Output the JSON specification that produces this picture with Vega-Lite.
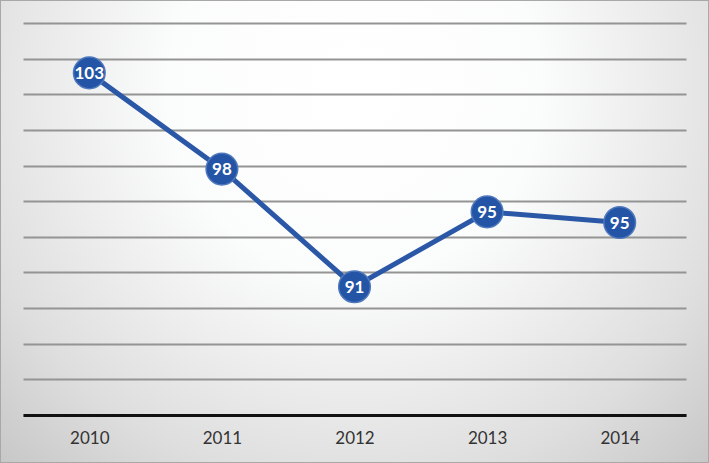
{
  "$schema": "https://vega.github.io/schema/vega-lite/v6.json",
  "width": 709,
  "height": 463,
  "autosize": {"type": "none"},
  "padding": 0,
  "background": "#d6d6d6",
  "config": {
    "view": {
      "fill": {
        "gradient": "radial",
        "x1": 0.5, "y1": 0.3, "r1": 0,
        "x2": 0.5, "y2": 0.3, "r2": 0.75,
        "stops": [
          {"offset": 0, "color": "#ffffff"},
          {"offset": 0.35, "color": "#fbfcfc"},
          {"offset": 0.75, "color": "#dedede"},
          {"offset": 1, "color": "#c4c4c4"}
        ]
      },
      "stroke": "#a8a8a8",
      "strokeWidth": 2
    }
  },
  "data": {
    "values": [
      {"year": "2010", "value": 103.2},
      {"year": "2011", "value": 97.8},
      {"year": "2012", "value": 91.2},
      {"year": "2013", "value": 95.4},
      {"year": "2014", "value": 94.8}
    ]
  },
  "encoding": {
    "x": {
      "field": "year",
      "type": "ordinal",
      "scale": {"range": [23, 686], "padding": 0.5},
      "axis": {
        "title": null,
        "orient": "bottom",
        "offset": -48,
        "domain": true,
        "domainColor": "#111111",
        "domainWidth": 3,
        "ticks": false,
        "grid": false,
        "labelAngle": 0,
        "labelFont": "Lato",
        "labelFontSize": 17,
        "labelColor": "#333333",
        "labelPadding": 15
      }
    },
    "y": {
      "field": "value",
      "type": "quantitative",
      "scale": {"domain": [84, 106], "range": [415, 23], "nice": false, "zero": false},
      "axis": {
        "title": null,
        "domain": false,
        "ticks": false,
        "labels": false,
        "grid": true,
        "values": [84, 86, 88, 90, 92, 94, 96, 98, 100, 102, 104, 106],
        "gridColor": "#949494",
        "gridWidth": 2
      }
    }
  },
  "layer": [
    {"mark": {"type": "line", "color": "#2b57a7", "strokeWidth": 5}},
    {"mark": {"type": "point", "filled": true, "shape": "circle", "size": 1000, "fill": "#2354a5", "stroke": "#4f78bd", "strokeWidth": 1.5, "opacity": 1}},
    {
      "mark": {"type": "text", "color": "#ffffff", "font": "Lato", "fontWeight": "bold", "fontSize": 17, "baseline": "middle", "align": "center", "dy": 1},
      "encoding": {"text": {"field": "value", "type": "quantitative", "format": ".0f"}}
    }
  ]
}
